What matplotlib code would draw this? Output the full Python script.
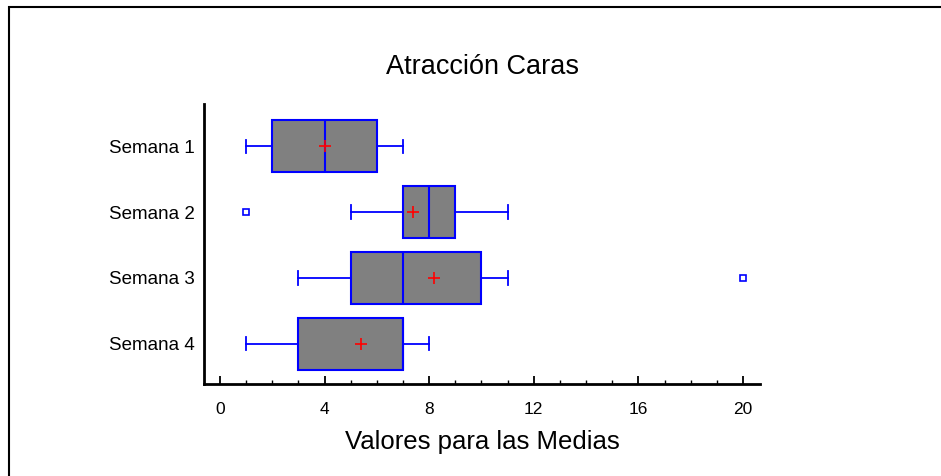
import matplotlib
matplotlib.use("Agg")
import matplotlib.pyplot as plt
from matplotlib.patches import Rectangle

plt.rcParams['font.family'] = ['Liberation Sans Narrow', 'Liberation Sans', 'DejaVu Sans']

# box plot summaries
semanas = ["Semana 1", "Semana 2", "Semana 3", "Semana 4"]
whis_lo = [1, 5, 3, 1]
q1 = [2, 7, 5, 3]
medianas = [4, 8, 7, 7]
q3 = [6, 9, 10, 7]
whis_hi = [7, 11, 11, 8]
medias = [4.0, 7.4, 8.2, 5.4]
atipicos = [[], [1], [20], []]

stats = []
for i, s in enumerate(semanas):
    stats.append(dict(label=s, whislo=whis_lo[i], q1=q1[i], med=medianas[i],
                      q3=q3[i], whishi=whis_hi[i], mean=medias[i],
                      fliers=atipicos[i]))

fig = plt.figure(figsize=(9.41, 4.76), dpi=100)
ax = fig.add_axes([204/941, 1-384/476, (760-204)/941, (384-104)/476])

blue = "#0000ff"
ax.bxp(stats, positions=range(1, len(semanas)+1), vert=False, widths=0.79,
       patch_artist=True, showmeans=True, capwidths=0.2,
       boxprops=dict(facecolor="#808080", edgecolor=blue, linewidth=1.5),
       medianprops=dict(color=blue, linewidth=1.5),
       whiskerprops=dict(color=blue, linewidth=1.3),
       capprops=dict(color=blue, linewidth=1.3),
       meanprops=dict(marker="+", markeredgecolor="red", markersize=9,
                      markeredgewidth=1.2),
       flierprops=dict(marker="s", markerfacecolor="white",
                       markeredgecolor=blue, markersize=5, markeredgewidth=1.2))

ax.set_xlim(-0.61, 20.65)
ax.set_ylim(4.61, 0.36)
ax.set_xticks([0, 4, 8, 12, 16, 20])
ax.set_xticks(range(0, 21), minor=True)
ax.tick_params(axis="x", which="major", direction="in", length=6, width=1.3,
               labelsize=12.5, pad=13)
ax.tick_params(axis="x", which="minor", direction="in", length=3, width=1)
ax.set_yticks(range(1, len(semanas)+1))
ax.set_yticklabels(semanas)
ax.tick_params(axis="y", length=0, labelsize=13.5, pad=6.5)

for sp in ["top", "right"]:
    ax.spines[sp].set_visible(False)
for sp in ["left", "bottom"]:
    ax.spines[sp].set_linewidth(2)

ax.set_xlabel("Valores para las Medias", fontsize=18.5, labelpad=9)
fig.text(0.5 * (204 + 760) / 941, 1 - 74/476, "Atracción Caras",
         fontsize=19.5, ha="center", va="baseline")

# frame around the whole picture
fig.patches.append(Rectangle((9/941, -0.01), 1.0, 1 - 7/476 + 0.01,
                             transform=fig.transFigure, fill=False,
                             edgecolor="black", linewidth=1.5))

fig.savefig("out.png", dpi=100)
